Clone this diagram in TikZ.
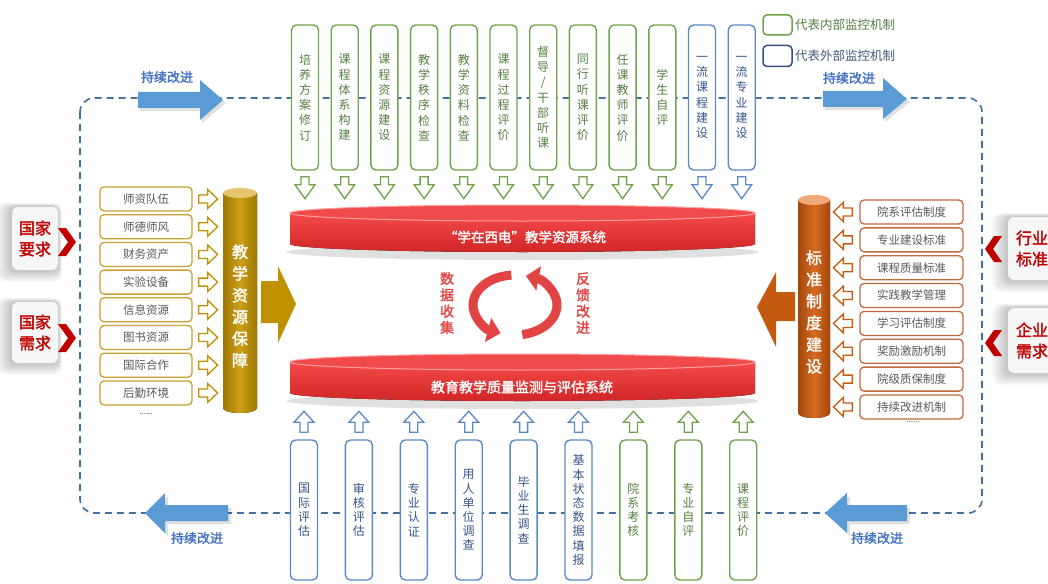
\documentclass[tikz,border=0pt]{standalone}
\usepackage{fontspec}
\setmainfont{Noto Sans CJK SC}[AutoFakeBold=1.8]
\usetikzlibrary{arrows.meta,calc}
\definecolor{cgreen}{HTML}{6FA24A}
\definecolor{cgreentxt}{HTML}{557F40}
\definecolor{cblue}{HTML}{5A8AC6}
\definecolor{cbluetxt}{HTML}{35558A}
\definecolor{cnavy}{HTML}{34507F}
\definecolor{cgold}{HTML}{BF9000}
\definecolor{cgolddk}{HTML}{9E7600}
\definecolor{cgoldlt}{HTML}{CDA01A}
\definecolor{cgoldtop}{HTML}{E4C46C}
\definecolor{cgoldbox}{HTML}{C9A030}
\definecolor{corange}{HTML}{C55A11}
\definecolor{corgdk}{HTML}{A4470B}
\definecolor{corglt}{HTML}{D56A22}
\definecolor{corgtop}{HTML}{F2A878}
\definecolor{corgbox}{HTML}{C2693C}
\definecolor{cred}{HTML}{C00000}
\definecolor{cbartop}{HTML}{F64A4A}
\definecolor{cbarbot}{HTML}{D02626}
\definecolor{cbarface}{HTML}{F04A4A}
\definecolor{cbarhl}{HTML}{FFA0A0}
\definecolor{ccyc}{HTML}{E24444}
\definecolor{carrow}{HTML}{5B9BD5}
\definecolor{ctxtblue}{HTML}{4472C4}
\definecolor{cdash}{HTML}{41719C}
\definecolor{ctext}{HTML}{595959}
\newcommand\sideshadow[4]{\foreach \e in {1,...,10}{\fill[black,opacity=0.025,rounded corners=8pt] ({#1-1.6*\e},{#2-0.4*\e}) rectangle ({#3+0.4*\e},{#4+1.2*\e});}}
\begin{document}
\begin{tikzpicture}[x=1pt,y=-1pt,
  vbox/.style={draw, line width=1.4pt, rounded corners=5pt, fill=white, minimum width=27pt, inner sep=0pt, align=center},
  tg/.style={vbox, draw=cgreen, text=cgreentxt, minimum height=145pt, font=\fontsize{12}{15.2}\selectfont},
  tb/.style={vbox, draw=cblue, text=cbluetxt, minimum height=145pt, font=\fontsize{12}{15.2}\selectfont},
  bg/.style={vbox, draw=cgreen, text=cgreentxt, minimum height=140pt, font=\fontsize{12}{14.2}\selectfont},
  bb/.style={vbox, draw=cblue, text=cbluetxt, minimum height=140pt, font=\fontsize{12}{14.2}\selectfont},
  lbox/.style={draw=cgoldbox, line width=1.3pt, rounded corners=4pt, fill=white, minimum width=92pt, minimum height=24pt, inner sep=0pt, text=ctext, font=\fontsize{11.5}{12}\selectfont},
  rbox/.style={draw=corgbox, line width=1.3pt, rounded corners=4pt, fill=white, minimum width=103pt, minimum height=24pt, inner sep=0pt, text=ctext, font=\fontsize{11.5}{12}\selectfont},
  sidebox/.style={fill=gray!7, rounded corners=6pt, minimum width=46pt, inner sep=0pt, text=cred, align=center, font=\bfseries\fontsize{16}{21}\selectfont},
  cyltext/.style={text=white, align=center, inner sep=0pt, font=\bfseries\fontsize{16}{21.7}\selectfont},
  bartext/.style={text=white, inner sep=0pt, font=\bfseries\fontsize{13.5}{14}\selectfont},
  cyclabel/.style={text=ccyc, align=center, inner sep=0pt, font=\bfseries\fontsize{14}{16.3}\selectfont},
  bluelabel/.style={text=ctxtblue, inner sep=0pt, font=\bfseries\fontsize{13}{14}\selectfont},
  bigblue/.style={fill=carrow},
  darr/.pic={\path[pic actions, fill=white, line width=1.3pt] (-4,0)--(4,0)--(4,8)--(10,8)--(0,22)--(-10,8)--(-4,8)--cycle;},
  uarr/.pic={\path[pic actions, fill=white, line width=1.3pt] (-4,0)--(4,0)--(4,-10)--(10,-10)--(0,-21)--(-10,-10)--(-4,-10)--cycle;},
  rarr/.pic={\path[pic actions, fill=white, line width=1.3pt] (0,-4)--(9,-4)--(9,-9.5)--(19,0)--(9,9.5)--(9,4)--(0,4)--cycle;},
  larr/.pic={\path[pic actions, fill=white, line width=1.3pt] (0,-4)--(-9,-4)--(-9,-9.5)--(-19,0)--(-9,9.5)--(-9,4)--(0,4)--cycle;}
]
\fill[white] (0,0) rectangle (1048,583);
\useasboundingbox (0,0) rectangle (1048,583);

% dashed improvement loop
\draw[cdash, line width=1.6pt, dash pattern=on 7pt off 5pt, rounded corners=14pt] (80,98) rectangle (982,513);

% legend
\node[draw=cgreen, line width=1.5pt, rounded corners=4pt, minimum width=29pt, minimum height=20pt, inner sep=0pt] (lg1) at (777.5,25) {};
\node[anchor=west, inner sep=0pt, text=cgreentxt, font=\fontsize{12.5}{13}\selectfont] (lg1t) at (795,25) {代表内部监控机制};
\node[draw=cnavy, line width=1.5pt, rounded corners=4pt, minimum width=29pt, minimum height=21pt, inner sep=0pt] (lg2) at (777.5,56) {};
\node[anchor=west, inner sep=0pt, text=cnavy!80!gray, font=\fontsize{12.5}{13}\selectfont] (lg2t) at (795,56) {代表外部监控机制};

% blue continuous-improvement arrows
\fill[black,opacity=0.12] (140,95)--(202,95)--(202,83)--(226,103)--(202,123)--(202,111)--(140,111)--cycle;
\fill[bigblue] (138,92)--(200,92)--(200,80)--(223,100)--(200,120)--(200,108)--(138,108)--cycle;
\node[bluelabel] (ci1) at (167,77) {持续改进};
\fill[black,opacity=0.12] (825,94)--(885,94)--(885,81)--(910,102)--(885,122)--(885,110)--(825,110)--cycle;
\fill[bigblue] (823,91)--(883,91)--(883,78)--(907,99)--(883,119)--(883,107)--(823,107)--cycle;
\node[bluelabel] (ci2) at (849,78) {持续改进};
\fill[black,opacity=0.12] (231,508)--(168,508)--(168,496)--(148,516)--(168,536)--(168,524)--(231,524)--cycle;
\fill[bigblue] (228,505)--(165,505)--(165,493)--(145,513)--(165,533)--(165,521)--(228,521)--cycle;
\node[bluelabel] (ci3) at (197,538) {持续改进};
\fill[black,opacity=0.12] (910,508)--(850,508)--(850,496)--(828,516)--(850,536)--(850,524)--(910,524)--cycle;
\fill[bigblue] (907,505)--(847,505)--(847,493)--(825,513)--(847,533)--(847,521)--(907,521)--cycle;
\node[bluelabel] (ci4) at (877,538) {持续改进};

% top boxes
\foreach \t [count=\i] in {{培\\养\\方\\案\\修\\订},{课\\程\\体\\系\\构\\建},{课\\程\\资\\源\\建\\设},{教\\学\\秩\\序\\检\\查},{教\\学\\资\\料\\检\\查},{课\\程\\过\\程\\评\\价},{督\\导\\/\\干\\部\\听\\课},{同\\行\\听\\课\\评\\价},{任\\课\\教\\师\\评\\价},{学\\生\\自\\评}}{
  \node[tg] (t\i) at ({305+39.7*(\i-1)},97.5) {\t};
  \pic[draw=cgreen] at ([yshift=-6pt]t\i.south) {darr};
}
\foreach \t [count=\i from 11] in {{一\\流\\课\\程\\建\\设},{一\\流\\专\\业\\建\\设}}{
  \node[tb] (t\i) at ({305+39.7*(\i-1)},97.5) {\t};
  \pic[draw=cblue] at ([yshift=-6pt]t\i.south) {darr};
}

% bottom boxes
\foreach \t [count=\i] in {{国\\际\\评\\估},{审\\核\\评\\估},{专\\业\\认\\证},{用\\人\\单\\位\\调\\查},{毕\\业\\生\\调\\查},{基\\本\\状\\态\\数\\据\\填\\报}}{
  \node[bb] (b\i) at ({304+54.9*(\i-1)},510) {\t};
  \pic[draw=cblue] at ([yshift=7pt]b\i.north) {uarr};
}
\foreach \t [count=\i from 7] in {{院\\系\\考\\核},{专\\业\\自\\评},{课\\程\\评\\价}}{
  \node[bg] (b\i) at ({304+54.9*(\i-1)},510) {\t};
  \pic[draw=cgreen] at ([yshift=7pt]b\i.north) {uarr};
}

% left list
\foreach \t [count=\i] in {师资队伍,师德师风,财务资产,实验设备,信息资源,图书资源,国际合作,后勤环境}{
  \node[lbox] (l\i) at (146,{199+27.7*(\i-1)}) {\t};
  \pic[draw=cgold] at ([xshift=6pt]l\i.east) {rarr};
}
\node[text=ctext, inner sep=0pt, font=\fontsize{8}{8}\selectfont] (ldots) at (146,414) {......};

% right list
\foreach \t [count=\i] in {院系评估制度,专业建设标准,课程质量标准,实践教学管理,学习评估制度,奖励激励机制,院级质保制度,持续改进机制}{
  \node[rbox] (r\i) at (911.5,{212+27.85*(\i-1)}) {\t};
  \pic[draw=corange] at ([xshift=-7pt]r\i.west) {larr};
}
\node[text=ctext, inner sep=0pt, font=\fontsize{8}{8}\selectfont] (rdots) at (913,422) {......};

% gold cylinder
\fill[left color=cgolddk, right color=cgolddk, middle color=cgoldlt] (223,193) -- (223,408) arc[start angle=180, end angle=0, x radius=17, y radius=5] -- (257,193) -- cycle;
\fill[cgoldtop] (240,193) ellipse[x radius=17, y radius=5];
\node[cyltext] (cylg) at (240,306) {教\\学\\资\\源\\保\\障};
\fill[cgold] (261,281)--(278,281)--(278,266)--(296,304)--(278,343)--(278,323)--(261,323)--cycle;

% orange cylinder
\fill[left color=corgdk, right color=corgdk, middle color=corglt] (798,200) -- (798,413) arc[start angle=180, end angle=0, x radius=16, y radius=5] -- (830,200) -- cycle;
\fill[corgtop] (814,200) ellipse[x radius=16, y radius=5];
\node[cyltext] (cylo) at (814,312) {标\\准\\制\\度\\建\\设};
\fill[corange] (795,292)--(776,292)--(776,272)--(757,307)--(776,347)--(776,321)--(795,321)--cycle;

% red bars
\fill[black,opacity=0.12] (522.5,252) ellipse[x radius=236, y radius=8];
\fill[top color=cbartop, bottom color=cbarbot] (290,213) -- (290,244) arc[start angle=180,end angle=0,x radius=232.5,y radius=8] -- (755,213) -- cycle;
\filldraw[fill=cbarface, draw=cbarhl, line width=1pt] (522.5,213) ellipse[x radius=232.5, y radius=8];
\node[bartext] (sys1) at (525,237) {“学在西电”教学资源系统};

\fill[black,opacity=0.12] (522.5,401) ellipse[x radius=236, y radius=8];
\fill[top color=cbartop, bottom color=cbarbot] (290,362) -- (290,393) arc[start angle=180,end angle=0,x radius=232.5,y radius=8] -- (755,362) -- cycle;
\filldraw[fill=cbarface, draw=cbarhl, line width=1pt] (522.5,362) ellipse[x radius=232.5, y radius=8];
\node[bartext, font=\bfseries\fontsize{14}{14}\selectfont] (sys2) at (522,387) {教育教学质量监测与评估系统};

% cycle
\begin{scope}[shift={(515,305)}, y=1pt]
  \draw[line width=9pt, ccyc, -{Triangle[length=13pt,width=24pt]}] (95:42 and 30) arc[start angle=95,end angle=250,x radius=42,y radius=30];
  \draw[line width=9pt, ccyc, -{Triangle[length=13pt,width=24pt]}] (-80:42 and 30) arc[start angle=-80,end angle=75,x radius=42,y radius=30];
\end{scope}
\node[cyclabel] (cyc1) at (447,303) {数\\据\\收\\集};
\node[cyclabel] (cyc2) at (583,303) {反\\馈\\改\\进};

% side boxes left
\sideshadow{12}{207}{58}{270}
\node[sidebox, minimum height=63pt] (g1) at (35,238.5) {国家\\要求};
\fill[cred] (58,228)--(66,228)--(76,242)--(66,256)--(58,256)--(68,242)--cycle;
\sideshadow{12}{302}{58}{363}
\node[sidebox, minimum height=61pt] (g2) at (35,332.5) {国家\\需求};
\fill[cred] (58,324)--(66,324)--(76,338)--(66,352)--(58,352)--(68,338)--cycle;

% side boxes right
\sideshadow{1008}{217}{1056}{280}
\node[sidebox, minimum width=48pt, minimum height=63pt] (g3) at (1032,248.5) {行业\\标准};
\fill[cred] (1002,236)--(994,236)--(985,249)--(994,262)--(1002,262)--(993,249)--cycle;
\sideshadow{1008}{308}{1056}{373}
\node[sidebox, minimum width=48pt, minimum height=65pt] (g4) at (1032,340.5) {企业\\需求};
\fill[cred] (1002,330)--(994,330)--(985,343)--(994,356)--(1002,356)--(993,343)--cycle;
\end{tikzpicture}
\end{document}
